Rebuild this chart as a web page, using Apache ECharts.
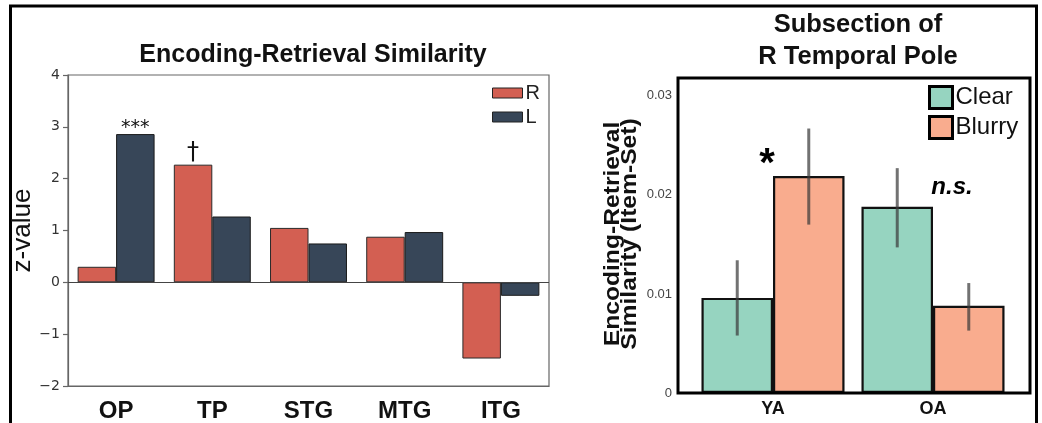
<!DOCTYPE html>
<html>
<head>
<meta charset="utf-8">
<script src="https://cdn.jsdelivr.net/npm/echarts@6/dist/echarts.min.js"></script>
<style>
  html, body { margin: 0; padding: 0; background: #fff; }
  #chart { width: 1042px; height: 423px; }
</style>
</head>
<body>
<div id="chart"></div>
<script>
// Left panel: encoding-retrieval similarity per region (z-values)
const regions = ['OP', 'TP', 'STG', 'MTG', 'ITG'];
const rValues = [0.30, 2.27, 1.05, 0.88, -1.47];
const lValues = [2.86, 1.27, 0.75, 0.97, -0.26];
const rMarks = ['', '†', '', '', ''];
const lMarks = ['***', '', '', '', ''];

// Right panel: subsection of R temporal pole, by age group
const groups = ['YA', 'OA'];
const clearMeans = [0.0096, 0.0188];
const clearLow = [0.0058, 0.0147];
const clearHigh = [0.0134, 0.0227];
const blurryMeans = [0.0219, 0.0088];
const blurryLow = [0.0170, 0.0063];
const blurryHigh = [0.0267, 0.0111];
const groupMarks = ['*', 'n.s.'];
const groupMarkLevels = [0.0238, 0.0209];

const FONT = 'Liberation Sans, Arial, sans-serif';
const MPL = 'DejaVu Sans, sans-serif';
const RIGHT_GAP = 0.106;

function withMarks(values, marks) {
  return values.map((v, i) => marks[i]
    ? { value: v, label: { show: true, formatter: marks[i] } }
    : v);
}

function errorBars(low, high, side) {
  return {
    type: 'custom',
    xAxisIndex: 1, yAxisIndex: 1,
    silent: true,
    z: 5,
    data: groups.map((g, i) => [i, low[i], high[i]]),
    encode: { x: 0, y: [1, 2] },
    renderItem: function (params, api) {
      const idx = api.value(0);
      const lo = api.coord([idx, api.value(1)]);
      const hi = api.coord([idx, api.value(2)]);
      const band = api.size([1, 0])[0];
      const bw = band * (1 - RIGHT_GAP) / 2;
      const x = lo[0] + side * bw / 2;
      return {
        type: 'line',
        shape: { x1: x, y1: lo[1], x2: x, y2: hi[1] },
        style: { stroke: 'rgba(60,60,60,0.72)', lineWidth: 3 }
      };
    }
  };
}

const chart = echarts.init(document.getElementById('chart'), null, { renderer: 'canvas' });

chart.setOption({
  animation: false,
  backgroundColor: '#ffffff',
  title: [
    {
      text: 'Encoding-Retrieval Similarity',
      left: 308, top: 38, textAlign: 'center',
      textStyle: { fontFamily: FONT, fontWeight: 'bold', fontSize: 25, color: '#111' }
    },
    {
      text: 'Subsection of\nR Temporal Pole',
      left: 853, top: 4, textAlign: 'center',
      textStyle: { fontFamily: FONT, fontWeight: 'bold', fontSize: 25.5, lineHeight: 32, color: '#111' }
    }
  ],
  legend: [
    {
      data: ['R', 'L'],
      orient: 'vertical',
      left: 492, top: 83, padding: 0,
      itemWidth: 30, itemHeight: 10, itemGap: 4,
      icon: 'rect',
      itemStyle: { borderColor: '#222', borderWidth: 1 },
      textStyle: { fontFamily: FONT, fontSize: 20, lineHeight: 18, color: '#222', padding: [0, 0, 0, -2] }
    },
    {
      data: ['Clear', 'Blurry'],
      orient: 'vertical',
      left: 928, top: 85, padding: 0,
      itemWidth: 23, itemHeight: 22, itemGap: 5,
      icon: 'rect',
      itemStyle: { borderColor: '#000', borderWidth: 3 },
      textStyle: { fontFamily: FONT, fontSize: 24, color: '#111', padding: [0, 0, 0, -2] }
    }
  ],
  grid: [
    { left: 68, top: 75, width: 481, height: 311, show: true, borderColor: '#666', borderWidth: 1.2, containLabel: false },
    { left: 693, top: 78, width: 320, height: 315, containLabel: false }
  ],
  xAxis: [
    {
      gridIndex: 0, type: 'category', data: regions,
      axisLine: { onZero: false, lineStyle: { color: '#666', width: 1.2 } },
      axisTick: { alignWithLabel: true, length: 5, lineStyle: { color: '#666', width: 1.2 } },
      axisLabel: { margin: 13, fontFamily: FONT, fontWeight: 'bold', fontSize: 24, color: '#111' }
    },
    {
      gridIndex: 1, type: 'category', data: groups,
      axisLine: { show: false }, axisTick: { show: false },
      axisLabel: { margin: 7, fontFamily: FONT, fontWeight: 'bold', fontSize: 18, color: '#111' }
    }
  ],
  yAxis: [
    {
      gridIndex: 0, type: 'value', min: -2, max: 4, interval: 1,
      name: 'z-value', nameLocation: 'middle', nameGap: 27, nameRotate: 90,
      nameTextStyle: { fontFamily: FONT, fontSize: 26, color: '#111' },
      axisLine: { show: true, lineStyle: { color: '#666', width: 1.2 } },
      axisTick: { show: true, length: 5, lineStyle: { color: '#666', width: 1.2 } },
      splitLine: { show: false },
      axisLabel: {
        margin: 8, fontFamily: MPL, fontSize: 14, color: '#333',
        formatter: v => String(v).replace('-', '\u2212')
      }
    },
    {
      gridIndex: 1, type: 'value', min: 0, max: 0.0318, interval: 0.01,
      axisLine: { show: false }, axisTick: { show: false }, splitLine: { show: false },
      axisLabel: {
        margin: 21, fontFamily: FONT, fontSize: 13, color: '#444', showMaxLabel: false,
        formatter: v => (Math.abs(v / 0.01 - Math.round(v / 0.01)) < 1e-6 ? String(+v.toFixed(2)) : '')
      }
    }
  ],
  series: [
    {
      name: 'R', type: 'bar', xAxisIndex: 0, yAxisIndex: 0,
      data: withMarks(rValues, rMarks),
      barGap: '0%', barCategoryGap: '20%',
      itemStyle: { color: '#d35f52', borderColor: '#2a2a2a', borderWidth: 1 },
      label: { show: false, position: 'top', distance: 0, fontFamily: MPL, fontSize: 24, color: '#111' },
      markLine: {
        silent: true, symbol: 'none', label: { show: false },
        lineStyle: { color: '#444', width: 1.2, type: 'solid' },
        data: [{ yAxis: 0 }]
      }
    },
    {
      name: 'L', type: 'bar', xAxisIndex: 0, yAxisIndex: 0,
      data: withMarks(lValues, lMarks),
      barGap: '0%', barCategoryGap: '20%',
      itemStyle: { color: '#374658', borderColor: '#1a1a1a', borderWidth: 1 },
      label: { show: false, position: 'top', distance: -3, fontFamily: MPL, fontSize: 19, color: '#111' }
    },
    {
      name: 'Clear', type: 'bar', xAxisIndex: 1, yAxisIndex: 1,
      data: clearMeans,
      barGap: '0%', barCategoryGap: (RIGHT_GAP * 100) + '%',
      itemStyle: { color: '#96d4c0', borderColor: '#111', borderWidth: 2.2 }
    },
    {
      name: 'Blurry', type: 'bar', xAxisIndex: 1, yAxisIndex: 1,
      data: blurryMeans,
      barGap: '0%', barCategoryGap: (RIGHT_GAP * 100) + '%',
      itemStyle: { color: '#f9ac8e', borderColor: '#111', borderWidth: 2.2 }
    },
    errorBars(clearLow, clearHigh, -1),
    errorBars(blurryLow, blurryHigh, 1),
    {
      type: 'scatter', xAxisIndex: 1, yAxisIndex: 1, silent: true,
      symbolSize: 0, z: 6,
      itemStyle: { opacity: 1 },
      data: groups.map((g, i) => ({
        value: [g, groupMarkLevels[i]],
        label: i === 0
          ? { show: true, formatter: groupMarks[i], offset: [-6, 8], fontSize: 40, fontWeight: 'bold', fontFamily: FONT, color: '#000', opacity: 1 }
          : { show: true, formatter: groupMarks[i], offset: [19, 1], fontSize: 24, fontWeight: 'bold', fontStyle: 'italic', fontFamily: FONT, color: '#000', opacity: 1 }
      })),
      label: { position: 'inside' }
    }
  ],
  graphic: [
    {
      type: 'polyline', silent: true,
      shape: { points: [[10.5, 430], [10.5, 6], [1036.5, 6], [1036.5, 430]] },
      style: { stroke: '#000', lineWidth: 3, fill: null }
    },
    {
      type: 'rect', silent: true, z: 10,
      shape: { x: 678, y: 78, width: 352, height: 315 },
      style: { stroke: '#000', lineWidth: 3, fill: null }
    },
    {
      // y-axis title of the right panel, stretched along its length
      type: 'text', silent: true,
      x: 621, y: 234, rotation: Math.PI / 2, scaleX: 1.12,
      style: {
        text: 'Encoding-Retrieval\nSimilarity (Item-Set)',
        fontFamily: FONT, fontWeight: 'bold', fontSize: 22, lineHeight: 17,
        fill: '#111', align: 'center', verticalAlign: 'middle'
      }
    }
  ]
});
</script>
</body>
</html>
